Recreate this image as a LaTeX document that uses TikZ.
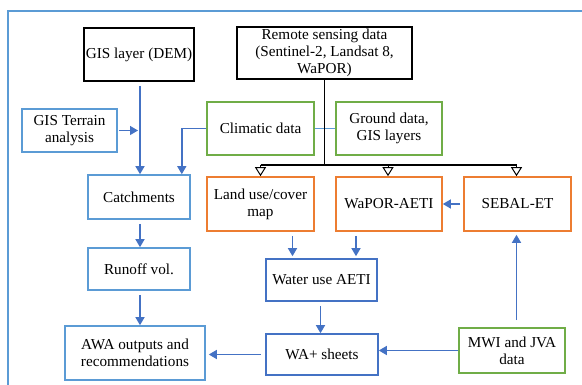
\documentclass[tikz,border=0pt]{standalone}
\usepackage{fontspec}
\setmainfont{Liberation Serif}
\usetikzlibrary{arrows.meta,calc}
\definecolor{lblue}{HTML}{5B9BD5}
\definecolor{dblue}{HTML}{4472C4}
\definecolor{cgreen}{HTML}{70AD47}
\definecolor{corange}{HTML}{ED7D31}
\tikzset{
  box/.style={draw,line width=1.6pt,align=center,inner sep=2pt,font=\fontsize{15.2}{17}\selectfont},
  blackbox/.style={box,draw=black,line width=1.8pt},
  lbbox/.style={box,draw=lblue},
  dbbox/.style={box,draw=dblue},
  grbox/.style={box,draw=cgreen},
  orbox/.style={box,draw=corange},
  arr/.style={draw=dblue,line width=1.4pt,-{Triangle[length=8pt,width=9pt]}},
  openarr/.style={draw=black,line width=1pt,-{Triangle[open,length=9pt,width=11pt]}},
}
\begin{document}
\begin{tikzpicture}[x=1pt,y=-1pt]
\useasboundingbox (0,0) rectangle (582,385);
\draw[lblue,line width=2pt] (8,386) -- (8,11) -- (583,11);

\node[blackbox,minimum width=106pt,minimum height=53pt] (dem) at (139,54.5) {GIS layer (DEM)};
\node[blackbox,minimum width=175pt,minimum height=52pt] (rs) at (324.5,53) {Remote sensing data\\(Sentinel-2, Landsat 8,\\WaPOR)};
\node[lbbox,minimum width=95pt,minimum height=43pt] (terr) at (69.5,130.5) {GIS Terrain\\analysis};
\node[grbox,minimum width=107pt,minimum height=53pt] (clim) at (260.5,128.5) {Climatic data};
\node[grbox,minimum width=106pt,minimum height=53pt] (ground) at (389,128.5) {Ground data,\\GIS layers};
\node[lbbox,minimum width=102pt,minimum height=44pt] (catch) at (139,197) {Catchments};
\node[orbox,minimum width=107pt,minimum height=54pt] (land) at (260.5,204) {Land use/cover\\map};
\node[orbox,minimum width=106pt,minimum height=54pt] (wapor) at (389,204) {WaPOR-AETI};
\node[orbox,minimum width=107pt,minimum height=54pt] (sebal) at (517.5,204) {SEBAL-ET};
\node[lbbox,minimum width=102pt,minimum height=42pt] (runoff) at (139,269) {Runoff vol.};
\node[dbbox,minimum width=111pt,minimum height=42pt] (water) at (321.5,280) {Water use AETI};
\node[lbbox,minimum width=140pt,minimum height=54pt] (awa) at (135,353) {AWA outputs and\\recommendations};
\node[dbbox,minimum width=112pt,minimum height=41pt] (wa) at (322,354.5) {WA+ sheets};
\node[grbox,minimum width=106pt,minimum height=45pt] (mwi) at (512,350.5) {MWI and JVA\\data};

\coordinate (bus) at (0,165);

% left branch
\draw[arr,shorten <=4pt] ([xshift=1pt]dem.south) -- ([xshift=1pt]dem.south |- catch.north);
\draw[arr,shorten <=1pt] (terr.east) -- ([xshift=-1pt]terr.east -| dem.south);
\coordinate (cin) at ([xshift=-9pt]catch.north east);
\draw[arr] (clim.west) -| (cin);
\draw[lblue,line width=0.6pt] (clim.east) -- (ground.west);
\draw[arr,shorten <=4pt] ([xshift=1pt]catch.south) -- ([xshift=1pt]catch.south |- runoff.north);
\draw[arr,shorten <=4pt] ([xshift=1pt]runoff.south) -- ([xshift=1pt]runoff.south |- awa.north);

% remote sensing bus
\draw[black,line width=1.1pt] (rs.south) -- (rs.south |- bus);
\draw[black,line width=1.1pt] (land.north |- bus) -- ([xshift=-1pt]sebal.north |- bus);
\draw[openarr] (land.north |- bus) -- (land.north);
\draw[openarr] ([xshift=-1pt]wapor.north |- bus) -- ([xshift=-1pt]wapor.north);
\draw[openarr] ([xshift=-1pt]sebal.north |- bus) -- ([xshift=-1pt]sebal.north);

% middle
\coordinate (l1) at ([xshift=32pt]land.south);
\draw[arr,shorten <=4pt,shorten >=2pt] (l1) -- (l1 |- water.north);
\coordinate (w1) at ([xshift=-33pt]wapor.south);
\draw[arr,shorten <=4pt,shorten >=2pt] (w1) -- (w1 |- water.north);
\draw[arr,shorten <=3pt] (sebal.west) -- (wapor.east);
\draw[arr,shorten <=4pt] ([xshift=-1pt]water.south) -- ([xshift=-1pt]water.south |- wa.north);
\draw[arr,shorten <=7pt,shorten >=3pt] ([xshift=-1pt]sebal.south |- mwi.north) -- ([xshift=-1pt]sebal.south);
\draw[arr] (mwi.west) -- (mwi.west -| wa.east);
\draw[arr,shorten <=4pt,shorten >=3pt] (wa.west) -- (wa.west -| awa.east);
\end{tikzpicture}
\end{document}
